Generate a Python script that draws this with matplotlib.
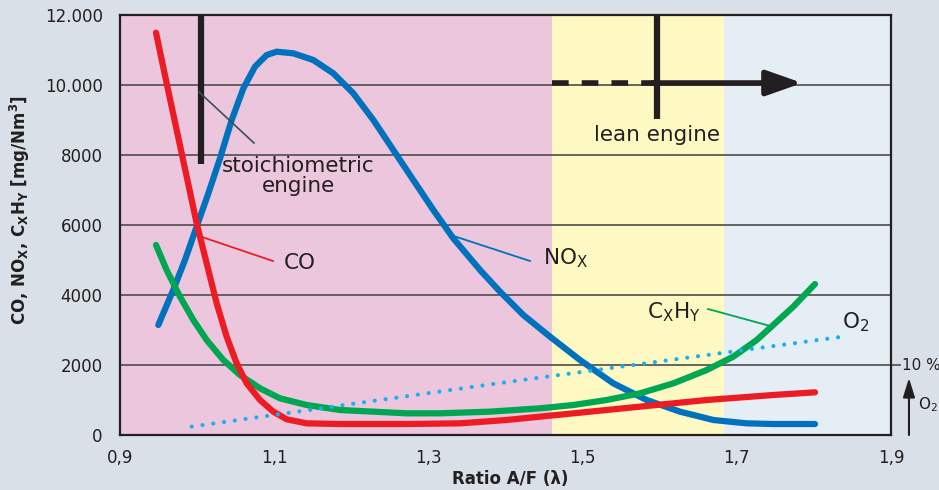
import matplotlib
matplotlib.use("Agg")
import matplotlib.pyplot as plt

plt.rcParams['mathtext.default'] = 'regular'

# data (lambda, mg/Nm3)
co_x = [0.9467, 0.9605, 0.9735, 0.9865, 0.9994, 1.0124, 1.0254, 1.0383, 1.0513, 1.0643,
        1.0816, 1.0988, 1.1162, 1.1421, 1.1853, 1.2718, 1.341, 1.4015, 1.488, 1.5744,
        1.661, 1.7473, 1.8014]
co_y = [11495, 10048, 8714, 7381, 6048, 4905, 3762, 2810, 2048, 1476,
        1000, 667, 448, 333, 314, 314, 333, 429, 619, 810,
        1000, 1143, 1219]

nox_x = [0.9497, 0.969, 0.9843, 0.9994, 1.0146, 1.0297, 1.0449, 1.060, 1.0751, 1.0903,
         1.1032, 1.1248, 1.1507, 1.1767, 1.2026, 1.2286, 1.2545, 1.2804, 1.3064, 1.3323,
         1.367, 1.3929, 1.4231, 1.4577, 1.4966, 1.5398, 1.5831, 1.6263, 1.6695, 1.7128,
         1.7473, 1.8014]
nox_y = [3143, 4143, 5000, 5952, 6905, 7905, 9000, 9905, 10524, 10857,
         10952, 10905, 10714, 10333, 9762, 9000, 8143, 7286, 6429, 5619,
         4714, 4095, 3429, 2810, 2143, 1476, 1000, 667, 429, 333,
         314, 314]

hc_x = [0.9467, 0.9605, 0.9778, 0.9951, 1.0124, 1.034, 1.0556, 1.0816, 1.1075, 1.1421,
        1.1853, 1.2285, 1.2718, 1.315, 1.3799, 1.4447, 1.488, 1.5312, 1.5744, 1.6177,
        1.661, 1.6955, 1.7258, 1.7473, 1.7733, 1.8014]
hc_y = [5429, 4714, 3952, 3286, 2714, 2143, 1714, 1333, 1048, 857,
        714, 667, 619, 619, 667, 762, 857, 1000, 1190, 1476,
        1857, 2238, 2714, 3143, 3667, 4314]

o2_x = [0.993, 1.393, 1.844]
o2_y = [240, 1486, 2829]

zones = [(0.9, 1.46, '#ebc6dd'), (1.46, 1.683, '#fef9c2'), (1.683, 1.9, '#e6eef5')]
xticks = [0.9, 1.1, 1.3, 1.5, 1.7, 1.9]
xtick_labels = ['0,9', '1,1', '1,3', '1,5', '1,7', '1,9']
yticks = [0, 2000, 4000, 6000, 8000, 10000, 12000]
ytick_labels = ['0', '2000', '4000', '6000', '8000', '10.000', '12.000']

txt = '#231f20'
bg = '#d9e0e7'

fig = plt.figure(figsize=(9.39, 4.9), dpi=100, facecolor=bg)
ax = fig.add_axes([120/939, 55/490, 771/939, 420/490])

for x0, x1, c in zones:
    ax.axvspan(x0, x1, color=c, lw=0, zorder=0)
for y in yticks[1:-1]:
    ax.axhline(y, color='#4d4d4d', lw=1.2, zorder=1)

ax.plot(nox_x, nox_y, color='#0071bc', lw=4.5, solid_capstyle='round', solid_joinstyle='round', zorder=3)
ax.plot(hc_x, hc_y, color='#00a651', lw=4.5, solid_capstyle='round', solid_joinstyle='round', zorder=4)
ax.plot(co_x, co_y, color='#ed1c24', lw=4.5, solid_capstyle='round', solid_joinstyle='round', zorder=5)
ax.plot(o2_x, o2_y, color='#1ab0ef', lw=3, linestyle=(0, (0.01, 2.6)), dash_capstyle='round', zorder=6)

# stoichiometric marker
ax.plot([1.005, 1.005], [7733, 12000], color=txt, lw=4.5, solid_capstyle='butt', zorder=7)
ax.plot([1.0025, 1.0738], [9800, 8343], color='#3d4f5c', lw=1.2, zorder=7)
ax.text(1.131, 7400, 'stoichiometric\nengine', ha='center', va='center', fontsize=15.5,
        color=txt, linespacing=1.0, zorder=8)

# lean engine marker
ax.plot([1.597, 1.597], [9029, 12000], color=txt, lw=4.5, solid_capstyle='butt', zorder=7)
ax.plot([1.46, 1.597], [10057, 10057], color=txt, lw=4, linestyle=(0, (3, 2.35)),
        dash_capstyle='butt', zorder=7)
ax.annotate('', xy=(1.785, 10057), xytext=(1.59, 10057),
            arrowprops=dict(arrowstyle='-|>,head_length=1.08,head_width=0.38', mutation_scale=20,
                            lw=4, color=txt, shrinkA=0, shrinkB=0), zorder=7)
ax.text(1.5965, 8571, 'lean engine', ha='center', va='center', fontsize=15.5, color=txt, zorder=8)

# curve labels
ax.plot([1.0064, 1.0984], [5657, 4971], color='#ed1c24', lw=1.3, zorder=7)
ax.text(1.1335, 4914, 'CO', ha='center', va='center', fontsize=15.5, color=txt)
ax.plot([1.328, 1.4318], [5720, 4971], color='#0071bc', lw=1.3, zorder=7)
ax.text(1.4486, 5057, 'NO$_X$', ha='left', va='center', fontsize=15.5, color=txt)
ax.plot([1.6626, 1.7457], [3600, 3100], color='#00a651', lw=1.3, zorder=7)
ax.text(1.5835, 3514, 'C$_X$H$_Y$', ha='left', va='center', fontsize=15.5, color=txt)
ax.text(1.8365, 3229, 'O$_2$', ha='left', va='center', fontsize=15.5, color=txt)

# O2 scale on the right
ytr = ax.get_yaxis_transform()
ax.plot([1.0, 1.012], [2000, 2000], color='#4d4d4d', lw=1.2, transform=ytr, clip_on=False)
ax.text(1.014, 2000, '10 %', transform=ytr, ha='left', va='center', fontsize=11, color=txt)
ax.annotate('', xy=(1.0233, 1630), xytext=(1.0233, 0), xycoords=ytr, textcoords=ytr,
            arrowprops=dict(arrowstyle='-|>,head_length=0.58,head_width=0.18', mutation_scale=20,
                            lw=1.5, color=txt, shrinkA=0, shrinkB=0))
ax.text(1.035, 857, 'O$_2$', transform=ytr, ha='left', va='center', fontsize=11, color=txt)

ax.set_xlim(0.9, 1.9)
ax.set_ylim(0, 12000)
ax.set_xticks(xticks)
ax.set_xticklabels(xtick_labels)
ax.set_yticks(yticks)
ax.set_yticklabels(ytick_labels)
ax.tick_params(length=0, labelsize=12, labelcolor=txt)
ax.tick_params(axis='y', pad=12.5)
ax.tick_params(axis='x', pad=10)
for s in ax.spines.values():
    s.set_linewidth(1.6)
    s.set_color(txt)
    s.set_zorder(9)

fig.text(510/939, 1 - 479/490, 'Ratio A/F (λ)', ha='center', va='center', fontsize=12,
         fontweight='bold', color=txt)
fig.text(20/939, 1 - 210/490, r'CO, NO$_\mathbf{X}$, C$_\mathbf{X}$H$_\mathbf{Y}$ [mg/Nm$^\mathbf{3}$]',
         rotation=90, ha='center', va='center', fontsize=12, fontweight='bold', color=txt)

fig.savefig('out.png', dpi=100, facecolor=bg)
